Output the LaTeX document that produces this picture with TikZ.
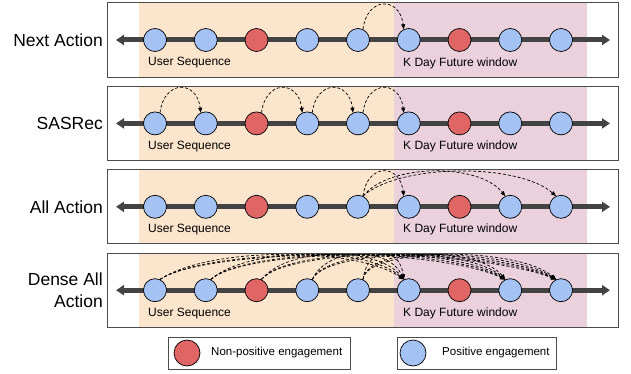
\documentclass[tikz,border=0pt]{standalone}
\usepackage{fontspec}
\setmainfont{Liberation Sans}
\usetikzlibrary{arrows.meta}
\definecolor{seqbg}{HTML}{FCE5CD}
\definecolor{futbg}{HTML}{EAD1DC}
\definecolor{posfill}{HTML}{A4C2F4}
\definecolor{negfill}{HTML}{E06666}
\definecolor{linegray}{HTML}{434343}
\begin{document}
\begin{tikzpicture}[x=1pt,y=1pt,
  panel/.style={draw=black!70, line width=1pt},
  timeline/.style={line width=5pt, draw=linegray, {Triangle[length=8pt,width=10pt]}-{Triangle[length=8pt,width=10pt]}},
  dotnode/.style={circle, draw=black, line width=0.7pt, fill=posfill, minimum size=23pt, inner sep=0pt},
  zonelabel/.style={font=\fontsize{12}{14}\selectfont, anchor=west, inner sep=0pt},
  rowlabel/.style={font=\fontsize{17.5}{22}\selectfont, anchor=east, inner sep=0pt, align=right},
  link/.style={dash pattern=on 3pt off 2pt, line width=0.7pt, -{Triangle[length=5pt,width=4pt]}},
  legendbox/.style={draw=black!70, line width=0.8pt, minimum height=32pt, inner sep=0pt},
  legendtext/.style={font=\fontsize{11.5}{13}\selectfont, anchor=west, inner sep=0pt},
]
\useasboundingbox (0,0) rectangle (631,373);
\foreach \p/\lbl in {1/{Next Action},2/{SASRec},3/{All Action},4/{Dense All\\Action}}{
  \pgfmathsetmacro{\ptop}{370-83.4*(\p-1)}
  \pgfmathsetmacro{\pbot}{\ptop-74}
  \pgfmathsetmacro{\pmid}{\ptop-37}
  \fill[white] (107,\pbot) rectangle (618,\ptop);
  \fill[seqbg] (139,\pbot) rectangle (394,\ptop);
  \fill[futbg] (394,\pbot) rectangle (587,\ptop);
  \draw[panel] (107,\pbot) rectangle (618,\ptop);
  \node[rowlabel] (row\p) at (103,\pmid) {\lbl};
  \coordinate (L\p) at (116,\pmid);
  \coordinate (R\p) at (610,\pmid);
  \draw[timeline] (L\p) -- (R\p);
  \foreach \i in {1,...,9}{
    \pgfmathsetmacro{\cx}{155+50.75*(\i-1)}
    \ifnum\i=3 \def\fillc{negfill}\else\ifnum\i=7 \def\fillc{negfill}\else\def\fillc{posfill}\fi\fi
    \node[dotnode, fill=\fillc] (c\p-\i) at (\cx,\pmid) {};
  }
  \node[zonelabel] (us\p) at (148,\pmid-23) {User Sequence};
  \node[zonelabel] (kd\p) at (403,\pmid-23) {K Day Future window};
}
% Next Action
\draw[link] (c1-5.65) .. controls +(4,33) and +(-4,33) .. (c1-6.115);
% SASRec
\foreach \s/\t in {1/2,3/4,4/5,5/6}{
  \draw[link] (c2-\s.65) .. controls +(4,33) and +(-4,33) .. (c2-\t.115);
}
% All Action
\foreach \t in {6,8,9}{
  \pgfmathsetmacro{\ax}{4+0.22*50.75*(\t-6)}
  \draw[link] (c3-5.65) .. controls +(\ax,33) and +(-\ax,33) .. (c3-\t.115);
}
% Dense All Action
\foreach \s in {1,...,5}{
  \pgfmathsetmacro{\sx}{4+0.22*50.75*(5-\s)}
  \foreach \t in {6,8,9}{
    \pgfmathsetmacro{\ax}{4+0.22*50.75*(\t-\s-1)}
    \draw[link] (c4-\s.65) .. controls +(\sx,33) and +(-\ax,33) .. (c4-\t.115);
  }
}
% Legend
\node[legendbox, minimum width=182pt] (lg1) at (259,20) {};
\node[dotnode, fill=negfill, minimum size=26pt] (lgc1) at (187,20) {};
\node[legendtext] (lgt1) at (211,20) {Non-positive engagement};
\node[legendbox, minimum width=159pt] (lg2) at (476.5,20) {};
\node[dotnode, fill=posfill, minimum size=26pt] (lgc2) at (413,20) {};
\node[legendtext] (lgt2) at (442,20) {Positive engagement};
\end{tikzpicture}
\end{document}
